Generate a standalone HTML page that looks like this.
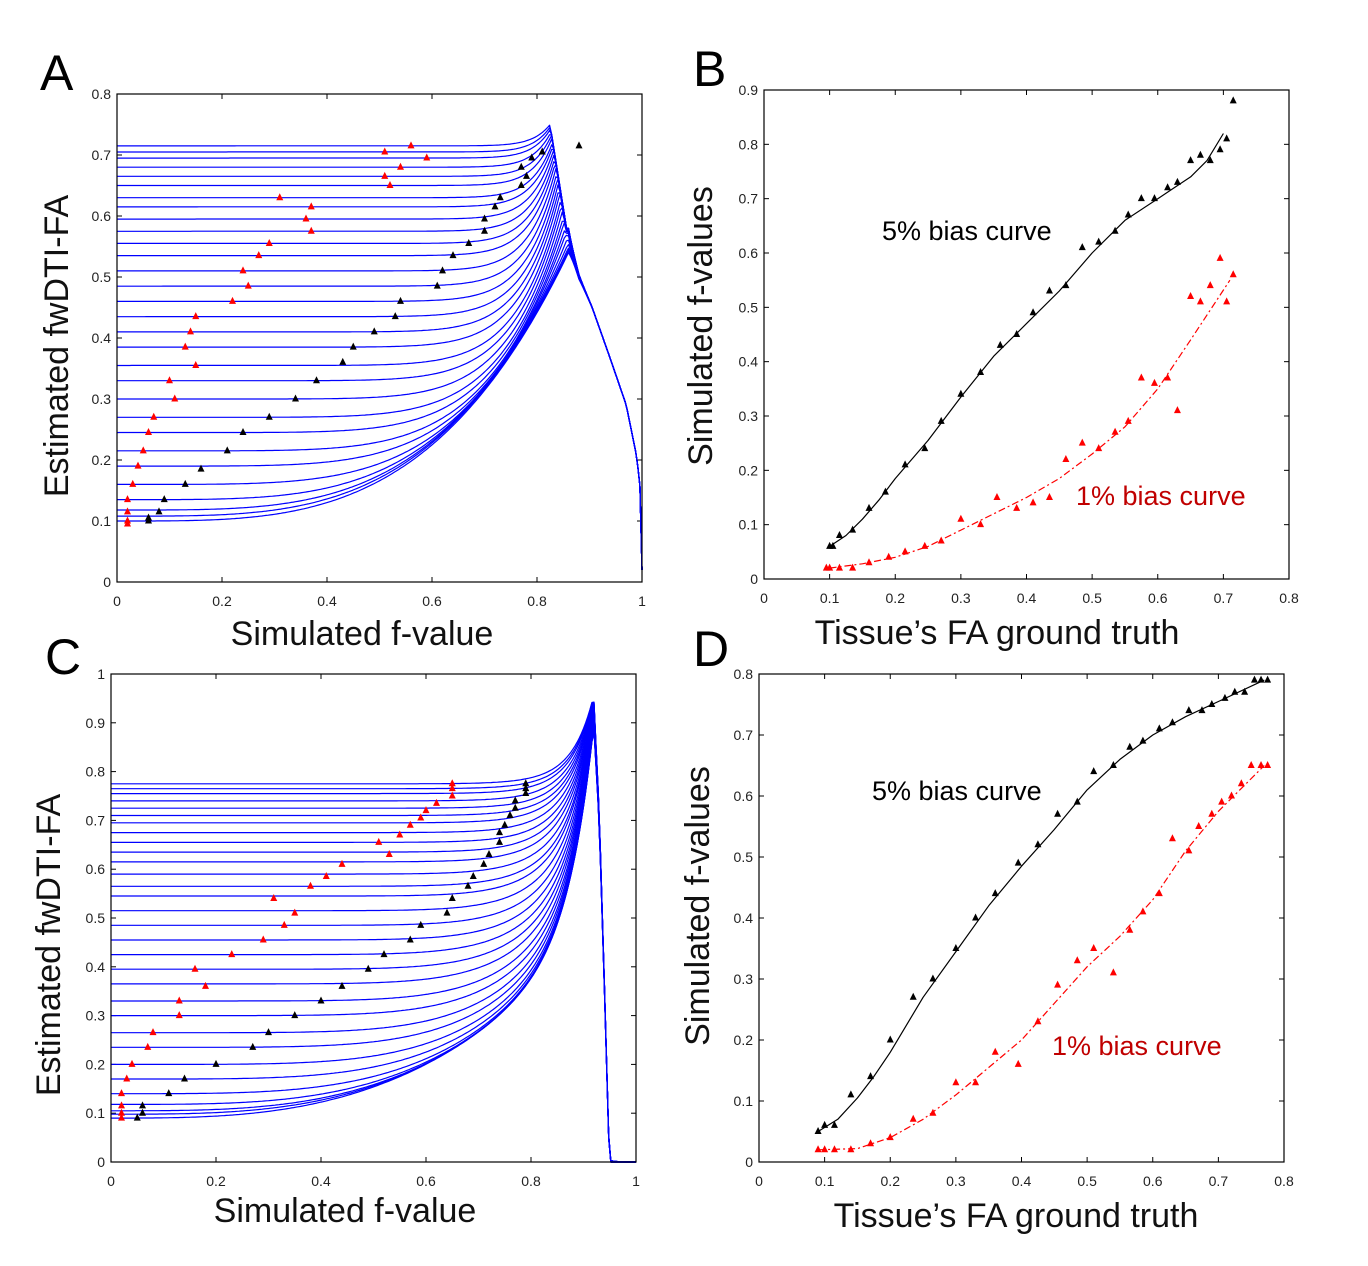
<!DOCTYPE html>
<html><head><meta charset="utf-8">
<style>
html,body{margin:0;padding:0;background:#fff;}
svg{display:block;}
text{font-family:"Liberation Sans",sans-serif;}
.tick{font-family:"Liberation Sans Narrow","Liberation Sans",sans-serif;font-size:14px;fill:#222;}
.axt{font-size:34px;fill:#111;}
.let{font-size:50px;fill:#000;}
.ann{font-size:27px;}
</style></head>
<body>
<svg id="fig" width="1368" height="1266" viewBox="0 0 1368 1266">
<text class="let" x="40" y="90">A</text>
<text class="let" x="693" y="86">B</text>
<text class="let" x="45" y="674">C</text>
<text class="let" x="693" y="666">D</text>

<text class="axt" x="362" y="645" text-anchor="middle">Simulated f-value</text>
<text class="axt" transform="translate(68,346) rotate(-90)" text-anchor="middle">Estimated fwDTI-FA</text>
<text class="axt" x="997" y="644" text-anchor="middle">Tissue’s FA ground truth</text>
<text class="axt" transform="translate(712,326) rotate(-90)" text-anchor="middle">Simulated f-values</text>
<text class="axt" x="345" y="1222" text-anchor="middle">Simulated f-value</text>
<text class="axt" transform="translate(60,945) rotate(-90)" text-anchor="middle">Estimated fwDTI-FA</text>
<text class="axt" x="1016" y="1227" text-anchor="middle">Tissue’s FA ground truth</text>
<text class="axt" transform="translate(709,906) rotate(-90)" text-anchor="middle">Simulated f-values</text>

<text class="ann" x="882" y="240" fill="#000">5% bias curve</text>
<text class="ann" x="1076" y="505" fill="#c00000">1% bias curve</text>
<text class="ann" x="872" y="800" fill="#000">5% bias curve</text>
<text class="ann" x="1052" y="1055" fill="#c00000">1% bias curve</text>
</svg>
<script>
// ---- data: panel B (x = tissue FA, y = f) ----
const bBlackX=[0.1,0.105,0.115,0.135,0.16,0.185,0.215,0.245,0.27,0.3,0.33,0.36,0.385,0.41,0.435,0.46,0.485,0.51,0.535,0.555,0.575,0.595,0.615,0.63,0.65,0.665,0.68,0.695,0.705,0.715];
const bBlackY=[0.06,0.06,0.08,0.09,0.13,0.16,0.21,0.24,0.29,0.34,0.38,0.43,0.45,0.49,0.53,0.54,0.61,0.62,0.64,0.67,0.70,0.70,0.72,0.73,0.77,0.78,0.77,0.79,0.81,0.88];
const bRedX=[0.095,0.1,0.115,0.135,0.16,0.19,0.215,0.245,0.27,0.3,0.33,0.355,0.385,0.41,0.435,0.46,0.485,0.51,0.535,0.555,0.575,0.595,0.615,0.63,0.65,0.665,0.68,0.695,0.705,0.715];
const bRedY=[0.02,0.02,0.02,0.02,0.03,0.04,0.05,0.06,0.07,0.11,0.10,0.15,0.13,0.14,0.15,0.22,0.25,0.24,0.27,0.29,0.37,0.36,0.37,0.31,0.52,0.51,0.54,0.59,0.51,0.56];
const bFitBlackX=[0.1,0.125,0.15,0.175,0.2,0.25,0.3,0.35,0.4,0.45,0.5,0.55,0.6,0.625,0.65,0.675,0.7];
const bFitBlackY=[0.06,0.08,0.11,0.145,0.185,0.255,0.335,0.41,0.47,0.53,0.6,0.66,0.7,0.72,0.74,0.77,0.82];
const bFitRedX=[0.1,0.15,0.2,0.25,0.3,0.35,0.4,0.45,0.5,0.55,0.6,0.65,0.71];
const bFitRedY=[0.02,0.028,0.04,0.06,0.09,0.12,0.15,0.185,0.23,0.28,0.35,0.44,0.55];
// ---- data: panel D ----
const dBlackX=[0.09,0.1,0.115,0.14,0.17,0.2,0.235,0.265,0.3,0.33,0.36,0.395,0.425,0.455,0.485,0.51,0.54,0.565,0.585,0.61,0.63,0.655,0.675,0.69,0.71,0.725,0.74,0.755,0.765,0.775];
const dBlackY=[0.05,0.06,0.06,0.11,0.14,0.2,0.27,0.30,0.35,0.40,0.44,0.49,0.52,0.57,0.59,0.64,0.65,0.68,0.69,0.71,0.72,0.74,0.74,0.75,0.76,0.77,0.77,0.79,0.79,0.79];
const dRedX=[0.09,0.1,0.115,0.14,0.17,0.2,0.235,0.265,0.3,0.33,0.36,0.395,0.425,0.455,0.485,0.51,0.54,0.565,0.585,0.61,0.63,0.655,0.67,0.69,0.705,0.72,0.735,0.75,0.765,0.775];
const dRedY=[0.02,0.02,0.02,0.02,0.03,0.04,0.07,0.08,0.13,0.13,0.18,0.16,0.23,0.29,0.33,0.35,0.31,0.38,0.41,0.44,0.53,0.51,0.55,0.57,0.59,0.60,0.62,0.65,0.65,0.65];
const dFitBlackX=[0.09,0.12,0.15,0.175,0.2,0.25,0.3,0.35,0.4,0.45,0.5,0.55,0.6,0.65,0.7,0.77];
const dFitBlackY=[0.05,0.07,0.105,0.14,0.18,0.27,0.345,0.42,0.485,0.545,0.61,0.66,0.7,0.73,0.755,0.79];
const dFitRedX=[0.09,0.15,0.2,0.25,0.3,0.35,0.4,0.45,0.5,0.55,0.6,0.65,0.7,0.77];
const dFitRedY=[0.02,0.022,0.04,0.07,0.11,0.155,0.2,0.26,0.32,0.37,0.43,0.51,0.575,0.65];
// ---- blue simulation curve families (intercepts at f=0) ----
const aStarts=[0.10,0.108,0.118,0.135,0.16,0.19,0.215,0.245,0.27,0.3,0.33,0.355,0.385,0.41,0.435,0.46,0.485,0.51,0.535,0.555,0.575,0.595,0.615,0.63,0.65,0.665,0.68,0.695,0.705,0.715];
const aPeakLow=0.54, aPeakHigh=0.75;
const aTailF=[0.86,0.88,0.905,0.938,0.97,0.99,0.997,1.0];
const aTailY=[0.56,0.5,0.45,0.37,0.29,0.205,0.15,0.02];
const cStarts=[0.09,0.098,0.105,0.118,0.14,0.17,0.2,0.235,0.265,0.3,0.33,0.365,0.395,0.425,0.455,0.485,0.515,0.545,0.565,0.59,0.615,0.635,0.655,0.675,0.695,0.71,0.725,0.74,0.755,0.765,0.775];
const cPeakLow=0.88, cPeakHigh=0.95;
const cTailF=[0.92,0.93,0.94,0.948,0.95,1.0];
const cTailY=[0.9,0.7,0.35,0.05,0.0,0.0];
// ---- ticks ----
const ticksA_x=[0,0.2,0.4,0.6,0.8,1], ticksA_y=[0,0.1,0.2,0.3,0.4,0.5,0.6,0.7,0.8];
const ticksB_x=[0,0.1,0.2,0.3,0.4,0.5,0.6,0.7,0.8], ticksB_y=[0,0.1,0.2,0.3,0.4,0.5,0.6,0.7,0.8,0.9];
const ticksC_x=[0,0.2,0.4,0.6,0.8,1], ticksC_y=[0,0.1,0.2,0.3,0.4,0.5,0.6,0.7,0.8,0.9,1];
const ticksD_x=[0,0.1,0.2,0.3,0.4,0.5,0.6,0.7,0.8], ticksD_y=[0,0.1,0.2,0.3,0.4,0.5,0.6,0.7,0.8];

const NS='http://www.w3.org/2000/svg';
const svg=document.getElementById('fig');
function mk(tag,attrs,parent){const e=document.createElementNS(NS,tag);for(const k in attrs)e.setAttribute(k,attrs[k]);(parent||svg).appendChild(e);return e;}
function interp(xs,ys,x){if(x<=xs[0])return ys[0];for(let i=1;i<xs.length;i++){if(x<=xs[i]){const t=(x-xs[i-1])/(xs[i]-xs[i-1]);return ys[i-1]+t*(ys[i]-ys[i-1]);}}return ys[ys.length-1];}

function panel(id,x0,x1,y0,y1,xmax,ymax,tx,ty){
  const sx=v=>x0+(x1-x0)*v/xmax, sy=v=>y1-(y1-y0)*v/ymax;
  const g=mk('g',{});
  
  
  const gx=mk('g',{},g);
  
  
  tx.forEach(v=>{
    mk('line',{x1:sx(v),x2:sx(v),y1:y1,y2:y1-5,stroke:'#000','stroke-width':1},gx);
    mk('line',{x1:sx(v),x2:sx(v),y1:y0,y2:y0+5,stroke:'#000','stroke-width':1},gx);
    const t=mk('text',{x:sx(v),y:y1+24,'text-anchor':'middle',class:'tick'},gx);t.textContent=String(v);
    
    
  });
  const gy=mk('g',{},g);
  
  
  ty.forEach(v=>{
    mk('line',{x1:x0,x2:x0+5,y1:sy(v),y2:sy(v),stroke:'#000','stroke-width':1},gy);
    mk('line',{x1:x1,x2:x1-5,y1:sy(v),y2:sy(v),stroke:'#000','stroke-width':1},gy);
    const t=mk('text',{x:x0-6,y:sy(v)+5,'text-anchor':'end',class:'tick'},gy);t.textContent=String(v);
    
    
  });
  const plot=mk('g',{},g);
  
  
  const box=mk('rect',{x:x0,y:y0,width:x1-x0,height:y1-y0,fill:'none',stroke:'#000','stroke-width':1.2},g);
  
  
  return {sx,sy,plot};
}
function marker(p,x,y,color,name){
  const X=p.sx(x),Y=p.sy(y);
  const e=mk('path',{d:`M${X},${Y-4.5} L${X+3.5},${Y+2.5} L${X-3.5},${Y+2.5} Z`,fill:color},p.plot);
  
  
}
function line(p,xs,ys,color,dash,name,w){
  const d=xs.map((x,i)=>(i?'L':'M')+p.sx(x).toFixed(1)+','+p.sy(ys[i]).toFixed(1)).join(' ');
  const e=mk('path',{d,fill:'none',stroke:color,'stroke-width':w||1.2,'stroke-dasharray':dash||'none','stroke-linejoin':'round'},p.plot);
  
  
}
function family(p,starts,peakLow,peakHigh,tailF,tailY,shape,fpFn,name){
  const sMin=starts[0],sMax=starts[starts.length-1];
  starts.forEach((s,i)=>{
    const t=(s-sMin)/(sMax-sMin);
    const peak=peakLow+(peakHigh-peakLow)*t;
    const fp=fpFn(t);
    const xs=[],ys=[];
    for(let f=0;f<=1.0001;f+=0.004){
      let y;
      if(f<=fp){y=s+(peak-s)*shape(f/fp,t);}
      else{const tv=interp(tailF,tailY,f);const k=Math.exp(-(f-fp)/0.012);y=tv+(peak-interp(tailF,tailY,fp))*k;if(tailF[0]>fp&&f<tailF[0])y=peak+(interp(tailF,tailY,f)-peak)*Math.min(1,(f-fp)/(tailF[0]-fp+1e-6));}
      xs.push(f);ys.push(Math.max(0,y));
    }
    line(p,xs,ys,'#0000ff',null,name+'-'+i,1.2);
  });
}

// Panel A
const pA=panel('a',117,642,94,582,1,0.8,ticksA_x,ticksA_y);
family(pA,aStarts,aPeakLow,aPeakHigh,aTailF,aTailY,(r,t)=>Math.pow(r,3.5+22*Math.pow(t,1.3)),t=>0.86-0.035*t,'panel-a-curve');
bRedX.forEach((x,i)=>marker(pA,bRedY[i],x,'#ff0000','panel-a-red-point'));
bBlackX.forEach((x,i)=>marker(pA,bBlackY[i],x,'#000','panel-a-black-point'));

// Panel B
const pB=panel('b',764,1289,90,579,0.8,0.9,ticksB_x,ticksB_y);
line(pB,bFitBlackX,bFitBlackY,'#000',null,'panel-b-5pct-curve',1.2);
line(pB,bFitRedX,bFitRedY,'#ff0000','7,3,2,3','panel-b-1pct-curve',1.2);
bBlackX.forEach((x,i)=>marker(pB,x,bBlackY[i],'#000','panel-b-black-point'));
bRedX.forEach((x,i)=>marker(pB,x,bRedY[i],'#ff0000','panel-b-red-point'));

// Panel C
const pC=panel('c',111,636,674,1162,1,1,ticksC_x,ticksC_y);
family(pC,cStarts,cPeakLow,cPeakHigh,cTailF,cTailY,(r,t)=>0.5*Math.pow(r,3+12*t)+0.5*Math.pow(r,20+10*t),t=>0.918,'panel-c-curve');
dRedX.forEach((x,i)=>marker(pC,dRedY[i],x,'#ff0000','panel-c-red-point'));
dBlackX.forEach((x,i)=>marker(pC,dBlackY[i],x,'#000','panel-c-black-point'));

// Panel D
const pD=panel('d',759,1284,674,1162,0.8,0.8,ticksD_x,ticksD_y);
line(pD,dFitBlackX,dFitBlackY,'#000',null,'panel-d-5pct-curve',1.2);
line(pD,dFitRedX,dFitRedY,'#ff0000','7,3,2,3','panel-d-1pct-curve',1.2);
dBlackX.forEach((x,i)=>marker(pD,x,dBlackY[i],'#000','panel-d-black-point'));
dRedX.forEach((x,i)=>marker(pD,x,dRedY[i],'#ff0000','panel-d-red-point'));
</script>
</body></html>
